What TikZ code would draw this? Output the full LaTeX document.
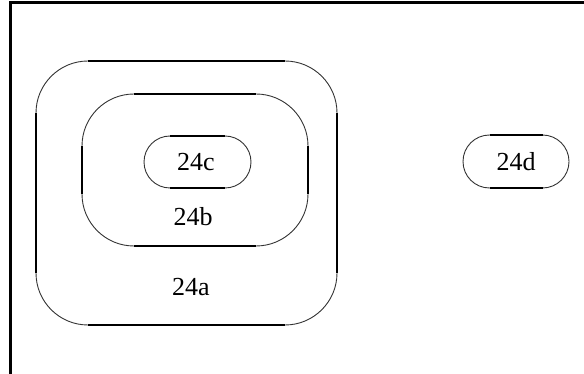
\documentclass[tikz,border=0pt]{standalone}
\usepackage{fontspec}
\setmainfont{Liberation Serif}
\begin{document}
\begin{tikzpicture}[x=1pt,y=-1pt,
  region/.style={draw=black!80, line width=0.9pt, inner sep=0pt, outer sep=0pt},
  straight/.style={line width=1.8pt, line cap=butt},
  lbl/.style={inner sep=0pt, font=\fontsize{26}{30}\selectfont},
  framel/.style={line width=3pt}]
\useasboundingbox (0,0) rectangle (584,374);
% frame
\coordinate (ftl) at (10.5,3);
\coordinate (ftr) at (584,3);
\coordinate (fbl) at (10.5,374);
\draw[framel] (fbl) -- (ftl) -- (ftr);
% regions
\node[region, minimum width=301, minimum height=264, rounded corners=52] (a) at (186.5,193) {};
\node[region, minimum width=226, minimum height=152, rounded corners=52] (b) at (195,170) {};
\node[region, minimum width=107, minimum height=52, rounded corners=26] (c) at (197.5,162) {};
\node[region, minimum width=106, minimum height=53, rounded corners=26.5] (d) at (516,161.5) {};
% straight segments drawn heavier
\foreach \n/\r in {a/52,b/52,c/26,d/26.5}{
  \draw[straight] ([xshift=\r]\n.north west) -- ([xshift=-\r]\n.north east);
  \draw[straight] ([xshift=\r]\n.south west) -- ([xshift=-\r]\n.south east);
  \draw[straight] ([yshift=-\r]\n.north west) -- ([yshift=\r]\n.south west);
  \draw[straight] ([yshift=-\r]\n.north east) -- ([yshift=\r]\n.south east);
}
% labels
\node[lbl] (la) at (191,287) {24a};
\node[lbl] (lb) at (193,217) {24b};
\node[lbl] (lc) at (196,162) {24c};
\node[lbl] (ld) at (516,162) {24d};
\end{tikzpicture}
\end{document}
